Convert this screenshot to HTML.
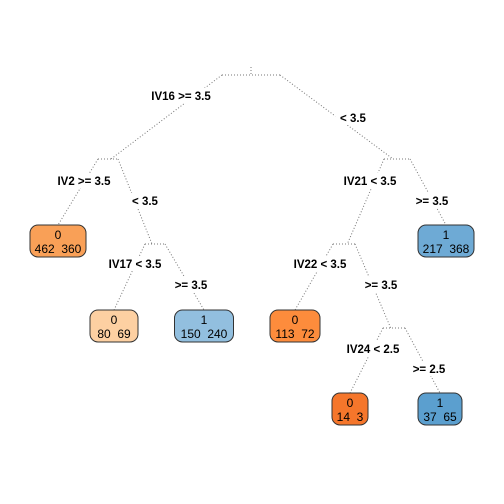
<!DOCTYPE html>
<html><head><meta charset="utf-8"><style>
body{margin:0;background:#fff}
svg{display:block}
text{font-family:"Liberation Sans",sans-serif}
</style></head><body>
<svg id="tree" width="504" height="504" viewBox="0 0 504 504"></svg>
<script>
// split nodes: id, center x, bar y, half width
const splitIds=["root","iv2","iv17","iv21","iv22","iv24"];
const splitX=[251,108,155,397,344,394];
const splitY=[75,159,244,159,244,328];
const splitHalf=[29,10,10,13,11,11];
// leaves
const leafIds=["leaf-462-360","leaf-80-69","leaf-150-240","leaf-217-368","leaf-113-72","leaf-14-3","leaf-37-65"];
const leafClass=["0","0","1","1","0","0","1"];
const leafN0=[462,80,150,217,113,14,37];
const leafN1=[360,69,240,368,72,3,65];
const leafX=[58,114,204,446,295,350,440];
const leafY=[225,310,310,225,310,393,393];
const leafW=[56,48,59,56,50,36,44];
const leafFill=["#f9a057","#fdd0a2","#92bfdf","#6eaad5","#fd8c3c","#f5762b","#5b9fcf"];
// edges
const edgeParent=[0,0,1,1,2,2,3,3,4,4,5,5];
const edgeChild=["s1","s3","l0","s2","l1","l2","s4","l3","l4","s5","l5","l6"];
const edgeLabel=["IV16 >= 3.5","< 3.5","IV2 >= 3.5","< 3.5","IV17 < 3.5",">= 3.5","IV21 < 3.5",">= 3.5","IV22 < 3.5",">= 3.5","IV24 < 2.5",">= 2.5"];
const edgeLX=[181,353,84,145,135,191,370,432,320,381,373,429];
const edgeLY=[96,118,181,201,264,285,181,201,264,285,349,369];

const svg=document.getElementById('tree');
const NS="http://www.w3.org/2000/svg";
function mk(t,a){const e=document.createElementNS(NS,t);for(const k in a)e.setAttribute(k,a[k]);svg.appendChild(e);return e;}
const dot={stroke:"#777","stroke-width":1,"stroke-dasharray":"1 2",fill:"none"};

splitIds.forEach((id,i)=>{
  const p=mk('polyline',Object.assign({points:`${splitX[i]-splitHalf[i]},${splitY[i]} ${splitX[i]+splitHalf[i]},${splitY[i]}`},dot));
  
  
});
const tick=mk('line',Object.assign({x1:splitX[0],y1:splitY[0]-8,x2:splitX[0],y2:splitY[0]},dot));



edgeParent.forEach((pi,i)=>{
  const c=edgeChild[i];const idx=+c.slice(1);
  const left=i%2===0;
  const x1=splitX[pi]+(left?-splitHalf[pi]:splitHalf[pi]);const y1=splitY[pi];
  let x2,y2;
  if(c[0]==='s'){x2=splitX[idx]+(left?splitHalf[idx]*0.3:-splitHalf[idx]*0.3);y2=splitY[idx];}
  else{x2=leafX[idx];y2=leafY[idx];}
  const l=mk('line',Object.assign({x1,y1,x2,y2},dot));
  
  
});
edgeLabel.forEach((t,i)=>{
  const w=t.length*6.3+4;
  const r=mk('rect',{x:edgeLX[i]-w/2,y:edgeLY[i]-8,width:w,height:15,fill:"#fff"});
  
  
  const e=mk('text',{x:edgeLX[i],y:edgeLY[i]+4,'text-anchor':'middle','font-size':11.5,'font-weight':'bold',fill:'#000'});
  e.textContent=t;
  
  
});
leafIds.forEach((id,i)=>{
  const r=mk('rect',{x:leafX[i]-leafW[i]/2,y:leafY[i],width:leafW[i],height:32,rx:8,ry:8,fill:leafFill[i],stroke:"#333","stroke-width":1});
  
  
  const t1=mk('text',{x:leafX[i],y:leafY[i]+14,'text-anchor':'middle','font-size':12,fill:'#000'});
  t1.textContent=leafClass[i];
  
  
  const t2=mk('text',{x:leafX[i],y:leafY[i]+28,'text-anchor':'middle','font-size':12,fill:'#000'});
  t2.textContent=leafN0[i]+'  '+leafN1[i];
  t2.style.whiteSpace='pre';
  
  
});
</script>
</body></html>
